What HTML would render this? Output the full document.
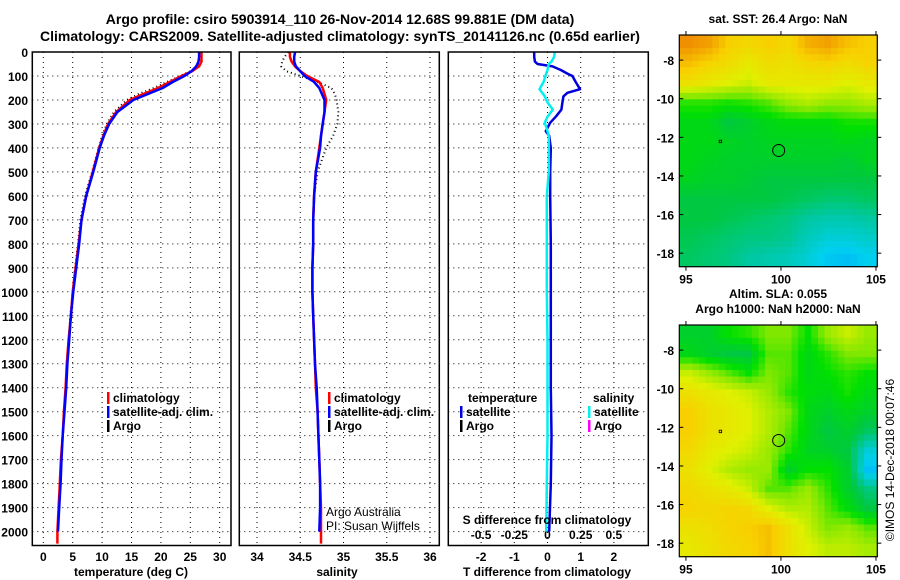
<!DOCTYPE html>
<html><head><meta charset="utf-8"><style>
html,body{margin:0;padding:0;background:#fff;}
svg{display:block;font-family:"Liberation Sans",Arial,sans-serif;font-weight:bold;}
</style></head><body>
<svg id="chart" width="900" height="580" viewBox="0 0 900 580" xmlns="http://www.w3.org/2000/svg">
<text x="340" y="24" text-anchor="middle" font-size="14">Argo profile: csiro 5903914_110 26-Nov-2014 12.68S 99.881E (DM data)</text>
<text x="340" y="41" text-anchor="middle" font-size="14">Climatology: CARS2009. Satellite-adjusted climatology: synTS_20141126.nc (0.65d earlier)</text>
<g id="g1"></g>
<g id="g2"></g>
<g id="g3"></g>
<g id="m1"></g>
<g id="m2"></g>
<text transform="translate(894,460) rotate(-90)" text-anchor="middle" font-size="12" font-weight="normal">©IMOS 14-Dec-2018 00:07:46</text>
</svg>
<script>
// ---- data ----
const depths = [0,20,40,60,80,100,125,150,175,200,250,300,350,400,500,600,700,800,900,1000,1100,1200,1300,1400,1500,1600,1700,1800,1900,2000];
const depthsClim = [0,20,40,60,80,100,125,150,175,200,250,300,350,400,500,600,700,800,900,1000,1100,1200,1300,1400,1500,1600,1700,1800,1900,2000,2050];
const tSat = [26.5,26.5,26.4,26,25.2,24,22,20.3,17.8,15.3,12.6,11.2,10.3,9.6,8.5,7.3,6.5,6.1,5.6,5.1,4.7,4.4,4.1,3.9,3.6,3.3,3.1,2.95,2.7,2.5];
const tClim = [26.9,26.9,26.9,26.5,25.3,23.5,21.5,19.5,17,14.7,12.4,11.0,10.2,9.5,8.4,7.3,6.5,6.0,5.5,5.0,4.7,4.3,4.0,3.8,3.5,3.3,3.0,2.8,2.6,2.4,2.4];
const tArgo = [26.8,26.8,26.6,26.2,25,23.3,21,18.8,16.2,14.2,12.0,10.8,10.0,9.4,8.3,7.1,6.3,5.9,5.4,5.0,4.6,4.3,4.0,3.8,3.5,3.3,3.0,2.8,2.6,2.5];
const sSat = [34.44,34.43,34.43,34.45,34.5,34.55,34.66,34.72,34.75,34.78,34.78,34.76,34.74,34.73,34.68,34.66,34.65,34.65,34.64,34.64,34.65,34.66,34.67,34.69,34.70,34.71,34.72,34.73,34.73,34.72];
const sClim = [34.38,34.38,34.4,34.44,34.5,34.58,34.72,34.76,34.78,34.8,34.78,34.76,34.74,34.72,34.68,34.66,34.65,34.65,34.64,34.64,34.65,34.66,34.67,34.68,34.70,34.71,34.72,34.73,34.74,34.74,34.74];
const sArgo = [34.36,34.32,34.29,34.28,34.34,34.5,34.7,34.86,34.9,34.92,34.94,34.93,34.88,34.8,34.7,34.66,34.65,34.65,34.64,34.64,34.65,34.66,34.67,34.69,34.70,34.71,34.72,34.73,34.73,34.72];
const diffDepths = [0,20,40,50,60,75,90,100,125,155,170,185,210,240,270,295,330,350,400,500,600,800,1000,1200,1400,1600,1800,2000];
const dT = [-0.4,-0.4,-0.38,-0.3,0.15,0.4,0.6,0.75,0.85,0.98,0.6,0.48,0.45,0.42,0.25,0.08,-0.05,0.05,0.1,0.08,0.08,0.1,0.1,0.1,0.1,0.12,0.1,0.05];
const dS = [0.055,0.05,0.03,0.01,0.005,0,-0.01,-0.015,-0.03,-0.06,-0.04,-0.02,0,0.04,0,-0.02,0,0.01,0.01,0.01,-0.005,-0.005,-0.005,0,0,0,-0.005,-0.01];
const depthTicks = [0,100,200,300,400,500,600,700,800,900,1000,1100,1200,1300,1400,1500,1600,1700,1800,1900,2000];
const tTicks = [0,5,10,15,20,25,30];
const sTicks = [34,34.5,35,35.5,36];
const sTickLabels = ["34","34.5","35","35.5","36"];
const dTTicks = [-2,-1,0,1,2];
const dSTicks = [-0.5,-0.25,0,0.25,0.5];
const dSTickLabels = ["-0.5","-0.25","0","0.25","0.5"];
const latTicks = [-8,-10,-12,-14,-16,-18];
const lonTicks = [95,100,105];
const sstGrid = [
[0.86,0.84,0.78,0.76,0.78,0.76,0.82,0.84,0.8,0.78],
[0.8,0.77,0.75,0.72,0.75,0.74,0.76,0.77,0.75,0.77],
[0.74,0.72,0.7,0.68,0.72,0.72,0.72,0.72,0.7,0.72],
[0.58,0.58,0.57,0.58,0.6,0.64,0.66,0.64,0.64,0.66],
[0.54,0.54,0.5,0.52,0.54,0.55,0.55,0.55,0.57,0.57],
[0.54,0.54,0.53,0.52,0.53,0.53,0.53,0.53,0.54,0.53],
[0.54,0.53,0.52,0.52,0.52,0.52,0.52,0.52,0.51,0.53],
[0.53,0.52,0.52,0.51,0.5,0.5,0.5,0.5,0.5,0.5],
[0.5,0.5,0.5,0.5,0.5,0.49,0.48,0.47,0.47,0.48],
[0.5,0.5,0.49,0.48,0.47,0.46,0.44,0.43,0.43,0.44],
[0.49,0.48,0.47,0.46,0.46,0.45,0.42,0.4,0.4,0.41],
[0.48,0.47,0.46,0.44,0.43,0.42,0.4,0.37,0.36,0.38]];
const slaGrid = [
[0.52,0.52,0.56,0.58,0.62,0.62,0.56,0.64,0.68,0.64],
[0.54,0.52,0.5,0.5,0.6,0.6,0.54,0.58,0.62,0.62],
[0.68,0.64,0.6,0.56,0.62,0.6,0.54,0.56,0.58,0.56],
[0.74,0.72,0.7,0.68,0.64,0.58,0.55,0.54,0.57,0.54],
[0.78,0.74,0.72,0.7,0.66,0.62,0.54,0.52,0.54,0.52],
[0.78,0.74,0.72,0.7,0.66,0.6,0.54,0.5,0.52,0.48],
[0.76,0.72,0.7,0.68,0.64,0.58,0.53,0.52,0.5,0.4],
[0.74,0.7,0.66,0.64,0.64,0.52,0.56,0.56,0.52,0.36],
[0.76,0.74,0.72,0.68,0.6,0.6,0.64,0.58,0.52,0.46],
[0.77,0.76,0.77,0.76,0.7,0.66,0.66,0.6,0.55,0.5],
[0.74,0.75,0.77,0.78,0.8,0.74,0.68,0.62,0.64,0.6],
[0.72,0.74,0.76,0.77,0.8,0.74,0.7,0.67,0.67,0.65]];
const argoLon = 99.88, argoLat = -12.68;

// ---- helpers ----
const NS="http://www.w3.org/2000/svg";
function mk(parent,tag,attrs,txt){const e=document.createElementNS(NS,tag);for(const k in attrs)e.setAttribute(k,attrs[k]);if(txt!==undefined)e.textContent=txt;parent.appendChild(e);return e;}
const TOP=52, BOT=545.5;
const yD = d => TOP + d*0.2398;
function lin(d0,d1,p0,p1){return v=>p0+(v-d0)*(p1-p0)/(d1-d0);}
const xT = lin(0,30,43.3,219.7);
const xS = lin(34,36,257,430);
const xDT = lin(0,1,547.5,580.7);
const xDS = lin(0,0.25,547.5,580.7);

function panel(g,x0,x1,xticks,xfn){
  for(const d of depthTicks){const l=mk(g,'line',{x1:x0,x2:x1,y1:yD(d),y2:yD(d),stroke:'#000','stroke-width':1,'stroke-dasharray':'1 4'});
    }
  for(const t of xticks){const l=mk(g,'line',{x1:xfn(t),x2:xfn(t),y1:TOP,y2:BOT,stroke:'#000','stroke-width':1,'stroke-dasharray':'1 4'});
    }
}
function frame(g,x0,x1,name){const r=mk(g,'rect',{x:x0,y:TOP,width:x1-x0,height:BOT-TOP,fill:'none',stroke:'#000','stroke-width':1.5});
  }
function line(g,xs,ds,xfn,color,w,dash,name){
  const pts=xs.map((v,i)=>xfn(v).toFixed(1)+','+yD(ds[i]).toFixed(1)).join(' ');
  const a={points:pts,fill:'none',stroke:color,'stroke-width':w,'stroke-linejoin':'round'};
  if(dash)a['stroke-dasharray']=dash;
  const p=mk(g,'polyline',a);
  
}
function legendItem(g,x,y,color,label,name){
  const r=mk(g,'rect',{x:x,y:y-10,width:2.5,height:12,fill:color});
  
  const t=mk(g,'text',{x:x+6,y:y,'font-size':12},label);
  
}

// ---- panel 1: temperature ----
const g1=document.getElementById('g1');
panel(g1,32.3,231,tTicks,xT);
for(const d of depthTicks){const t=mk(g1,'text',{x:28,y:yD(d)+5,'text-anchor':'end','font-size':12},String(d));
  }
for(const v of tTicks){const t=mk(g1,'text',{x:xT(v),y:561,'text-anchor':'middle','font-size':12},String(v));
  }
line(g1,tArgo,depths,xT,'#000',2,'1 3','argo-temperature-line');
line(g1,tClim,depthsClim,xT,'#ff0000',2.5,null,'climatology-temperature-line');
line(g1,tSat,depths,xT,'#0000ff',2.5,null,'satellite-temperature-line');
frame(g1,32.3,231,'temperature-axes-frame');
{const t=mk(g1,'text',{x:131,y:576,'text-anchor':'middle','font-size':12},'temperature (deg C)');}
legendItem(g1,107,402,'#ff0000','climatology','legend-climatology');
legendItem(g1,107,416,'#0000ff','satellite-adj. clim.','legend-satellite');
legendItem(g1,107,430,'#000','Argo','legend-argo');

// ---- panel 2: salinity ----
const g2=document.getElementById('g2');
panel(g2,239.3,439.3,sTicks,xS);
sTicks.forEach((v,i)=>{const t=mk(g2,'text',{x:xS(v),y:561,'text-anchor':'middle','font-size':12},sTickLabels[i]);
  });
line(g2,sArgo,depths,xS,'#000',2,'1 3','argo-salinity-line');
line(g2,sClim,depthsClim,xS,'#ff0000',2.5,null,'climatology-salinity-line');
line(g2,sSat,depths,xS,'#0000ff',2.5,null,'satellite-salinity-line');
frame(g2,239.3,439.3,'salinity-axes-frame');
{const t=mk(g2,'text',{x:337,y:576,'text-anchor':'middle','font-size':12},'salinity');}
legendItem(g2,328,402,'#ff0000','climatology','legend-climatology-s');
legendItem(g2,328,416,'#0000ff','satellite-adj. clim.','legend-satellite-s');
legendItem(g2,328,430,'#000','Argo','legend-argo-s');
{const t=mk(g2,'text',{x:326,y:516,'font-size':12,'font-weight':'normal'},'Argo Australia');
 const t2=mk(g2,'text',{x:326,y:530,'font-size':12,'font-weight':'normal'},'PI: Susan Wijffels');}

// ---- panel 3: differences ----
const g3=document.getElementById('g3');
panel(g3,448.3,648.3,dTTicks,xDT);
dTTicks.forEach(v=>{const t=mk(g3,'text',{x:xDT(v),y:561,'text-anchor':'middle','font-size':12},String(v));
  });
dSTicks.forEach((v,i)=>{const t=mk(g3,'text',{x:xDS(v),y:539,'text-anchor':'middle','font-size':12},dSTickLabels[i]);
  });
line(g3,dT,diffDepths,xDT,'#0000dd',2.5,null,'satellite-t-diff-line');
line(g3,dS,diffDepths,xDS,'#00f0f0',2.5,null,'satellite-s-diff-line');
frame(g3,448.3,648.3,'difference-axes-frame');
{const t=mk(g3,'text',{x:547,y:524,'text-anchor':'middle','font-size':12},'S difference from climatology');
 const t2=mk(g3,'text',{x:547,y:576,'text-anchor':'middle','font-size':12},'T difference from climatology');
 const t3=mk(g3,'text',{x:468,y:402,'font-size':12},'temperature');
 const t4=mk(g3,'text',{x:593,y:402,'font-size':12},'salinity');}
legendItem(g3,460,416,'#0000dd','satellite','legend-t-satellite');
legendItem(g3,460,430,'#000','Argo','legend-t-argo');
legendItem(g3,588,416,'#00f0f0','satellite','legend-s-satellite');
legendItem(g3,588,430,'#ff00ff','Argo','legend-s-argo');

// ---- maps ----
const stops=[[0.3,[0,144,255]],[0.38,[0,208,240]],[0.44,[0,200,160]],[0.5,[0,200,64]],[0.56,[0,224,0]],[0.62,[128,232,0]],[0.7,[224,240,0]],[0.78,[248,208,0]],[0.86,[240,144,0]]];
function cmap(v){if(v<=stops[0][0])return stops[0][1];for(let i=1;i<stops.length;i++){if(v<=stops[i][0]){const a=stops[i-1],b=stops[i],f=(v-a[0])/(b[0]-a[0]);return a[1].map((c,k)=>Math.round(c+(b[1][k]-c)*f));}}return stops[stops.length-1][1];}
const LON0=94.65,LON1=105.07,LAT0=-6.7,LAT1=-18.7;
function drawMap(g,grid,top,bottom,titleLines,name){
  const x0=679.3,x1=877.3;
  const xL=lin(LON0,LON1,x0,x1), yL=lin(LAT0,LAT1,top,bottom);
  const R=grid.length,C=grid[0].length,sub=3;
  const cw=(x1-x0)/(C*sub), ch=(bottom-top)/(R*sub);
  for(let r=0;r<R*sub;r++)for(let c=0;c<C*sub;c++){
    const fr=Math.min(R-1,Math.max(0,(r+0.5)/sub-0.5)), fc=Math.min(C-1,Math.max(0,(c+0.5)/sub-0.5));
    const r0=Math.floor(fr),c0=Math.floor(fc),r1=Math.min(R-1,r0+1),c1=Math.min(C-1,c0+1),a=fr-r0,b=fc-c0;
    const v=grid[r0][c0]*(1-a)*(1-b)+grid[r0][c1]*(1-a)*b+grid[r1][c0]*a*(1-b)+grid[r1][c1]*a*b;
    const col=cmap(v);
    const cell=mk(g,'rect',{x:(x0+c*cw).toFixed(2),y:(top+r*ch).toFixed(2),width:(cw+0.4).toFixed(2),height:(ch+0.4).toFixed(2),fill:'rgb('+col.join(',')+')'});
    
    
  }
  const fr=mk(g,'rect',{x:x0,y:top,width:x1-x0,height:bottom-top,fill:'none',stroke:'#000','stroke-width':1.2});
  
  for(const lt of latTicks){const y=yL(lt);
    mk(g,'line',{x1:x0,x2:x0+4,y1:y,y2:y,stroke:'#000'});mk(g,'line',{x1:x1,x2:x1+4,y1:y,y2:y,stroke:'#000'});
    const t=mk(g,'text',{x:674,y:y+5,'text-anchor':'end','font-size':12},String(lt));
    }
  for(const ln of lonTicks){const x=xL(ln);
    mk(g,'line',{x1:x,x2:x,y1:top-4,y2:top,stroke:'#000'});mk(g,'line',{x1:x,x2:x,y1:bottom,y2:bottom+4,stroke:'#000'});
    const t=mk(g,'text',{x:x,y:bottom+17,'text-anchor':'middle','font-size':12},String(ln));
    }
  const c=mk(g,'circle',{cx:xL(argoLon),cy:yL(argoLat),r:6,fill:'none',stroke:'#000','stroke-width':1});
  
  mk(g,'rect',{x:xL(96.8)-1,y:yL(-12.2)-1,width:2.5,height:2.5,fill:'none',stroke:'#000','stroke-width':0.8});
  titleLines.forEach((s,i)=>{const t=mk(g,'text',{x:778,y:top-12-(titleLines.length-1-i)*15,'text-anchor':'middle','font-size':12},s);
    });
}
drawMap(document.getElementById('m1'),sstGrid,35,266.7,['sat. SST: 26.4 Argo: NaN'],'sst-map');
drawMap(document.getElementById('m2'),slaGrid,325,556.7,['Altim. SLA: 0.055','Argo h1000: NaN h2000: NaN'],'sla-map');
</script>
</body></html>
